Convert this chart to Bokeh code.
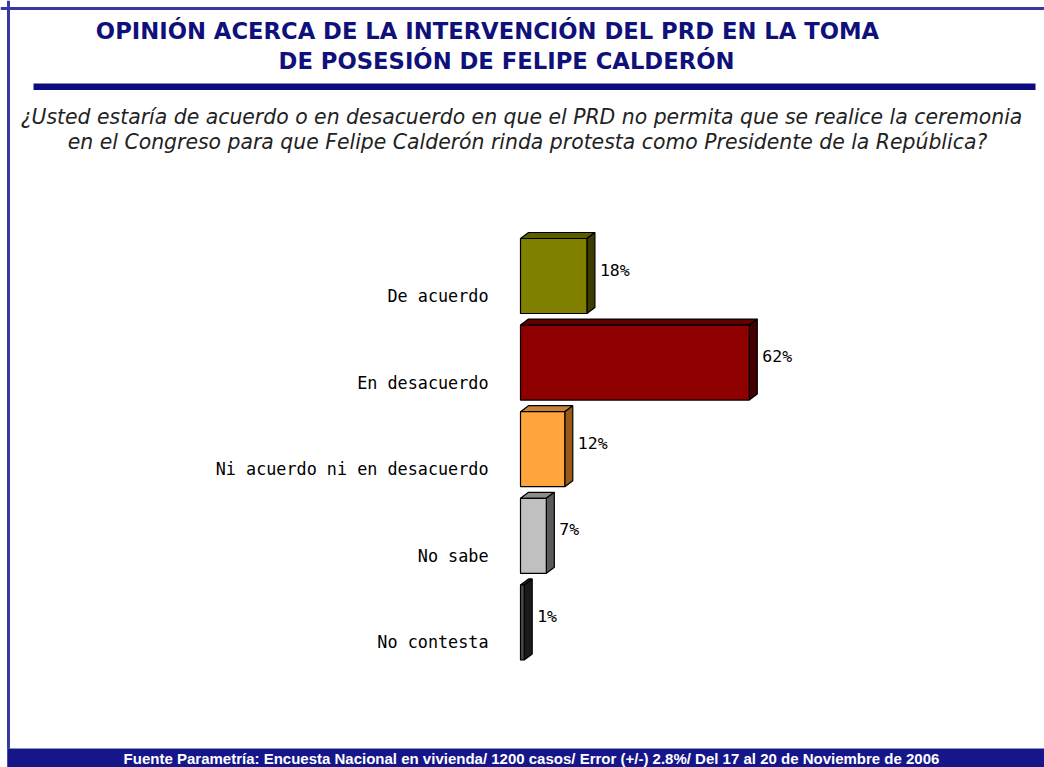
import numpy as np
from bokeh.plotting import figure
from bokeh.models import Range1d, ColumnDataSource, BoxAnnotation, Span, Label
from bokeh.embed import file_html
from bokeh.resources import INLINE
from bokeh.core.properties import value

# ---------------- data ----------------
categories = ["De acuerdo", "En desacuerdo", "Ni acuerdo ni en desacuerdo",
              "No sabe", "No contesta"]
values = [18, 62, 12, 7, 1]
value_labels = ["18%", "62%", "12%", "7%", "1%"]

title_lines = ["OPINIÓN ACERCA DE LA INTERVENCIÓN DEL PRD EN LA TOMA",
               "DE POSESIÓN DE FELIPE CALDERÓN"]
question_lines = ["¿Usted estaría de acuerdo o en desacuerdo en que el PRD no permita que se realice la ceremonia",
                  "en el Congreso para que Felipe Calderón rinda protesta como Presidente de la República?"]
source_text = "Fuente Parametría: Encuesta Nacional en vivienda/ 1200 casos/ Error (+/-) 2.8%/ Del 17 al 20 de Noviembre de 2006"

front_colors = ["#808000", "#8e0000", "#ffa53c", "#c0c0c0", "#4a4a4a"]
top_colors = ["#5c5c00", "#600000", "#c8823a", "#8c8c8c", "#303030"]
side_colors = ["#3c3c00", "#440000", "#9a5a16", "#5a5a5a", "#1a1a1a"]

# ---------------- layout (pixel <-> data) ----------------
W, H = 1044, 767
X0, XS = 520.0, 3.69      # pixel of 0 %, pixels per %
Y0, YS = 275.5, 86.6      # pixel centre of first bar, pixels per category


def px(x):
    return (x - X0) / XS


def py(y):
    return (y - Y0) / YS


p = figure(width=W, height=H, x_range=Range1d(px(0), px(W)),
           y_range=Range1d(py(H), py(0)), output_backend="svg",
           toolbar_location=None, min_border=0, outline_line_color=None,
           x_axis_location=None, y_axis_location=None,
           background_fill_color="white", border_fill_color="white")
p.grid.visible = False

# frame
p.add_layout(Span(location=px(8), dimension="height", line_color="#3a3a9e", line_width=3))
p.add_layout(Span(location=py(8), dimension="width", line_color="#3a3a9e", line_width=3))

# footer band
p.add_layout(BoxAnnotation(top=py(748), bottom=py(H + 5), left=px(7), right=px(W + 5),
                           fill_color="#14168a", fill_alpha=1, line_color="#9a9ac8", line_width=1))

# rule under the title
p.add_layout(BoxAnnotation(top=py(83), bottom=py(89.5), left=px(33), right=px(1035),
                           fill_color="#0c0c80", fill_alpha=1, line_color=None))

# ---------------- bars ----------------
idx = np.arange(len(values), dtype=float)
v = np.array(values, dtype=float)
h = 75.0 / YS
dx = 8.0 / XS
dy = 6.0 / YS
tops = idx - h / 2
bots = idx + h / 2

top_xs = [[0, dx, vi + dx, vi] for vi in v]
top_ys = [[t, t - dy, t - dy, t] for t in tops]
side_xs = [[vi, vi + dx, vi + dx, vi] for vi in v]
side_ys = [[t, t - dy, b - dy, b] for t, b in zip(tops, bots)]

p.patches(xs=top_xs, ys=top_ys, fill_color=top_colors, line_color="black", line_width=1.2)
p.patches(xs=side_xs, ys=side_ys, fill_color=side_colors, line_color="black", line_width=1.2)
p.quad(left=0, right=v, top=tops, bottom=bots, fill_color=front_colors,
       line_color="black", line_width=1.2)

# category labels
p.text(x=[px(488)] * len(categories), y=idx + 20.0 / YS, text=categories,
       text_align="right", text_baseline="middle",
       text_font=value("DejaVu Sans Mono"), text_font_size="16.8px", text_color="black")

# value labels
p.text(x=v + dx + 5.0 / XS, y=idx - 6.0 / YS, text=value_labels,
       text_align="left", text_baseline="middle",
       text_font=value("DejaVu Sans Mono"), text_font_size="16.5px", text_color="black")

# ---------------- titles ----------------
p.add_layout(Label(x=px(487), y=py(30), text=title_lines[0], text_align="center",
                   text_baseline="middle", text_font="DejaVu Sans", text_font_style="bold",
                   text_font_size="22.7px", text_color="#10107a"))
p.add_layout(Label(x=px(506), y=py(60), text=title_lines[1], text_align="center",
                   text_baseline="middle", text_font="DejaVu Sans", text_font_style="bold",
                   text_font_size="22.7px", text_color="#10107a"))

p.add_layout(Label(x=px(521), y=py(116), text=question_lines[0], text_align="center",
                   text_baseline="middle", text_font="DejaVu Sans", text_font_style="italic",
                   text_font_size="20.4px", text_color="#222222"))
p.add_layout(Label(x=px(527), y=py(141), text=question_lines[1], text_align="center",
                   text_baseline="middle", text_font="DejaVu Sans", text_font_style="italic",
                   text_font_size="20.4px", text_color="#222222"))

p.add_layout(Label(x=px(531), y=py(758), text=source_text, text_align="center",
                   text_baseline="middle", text_font="Liberation Sans", text_font_style="bold",
                   text_font_size="15px", text_color="white"))

open("out.html", "w").write(file_html(p, INLINE))
